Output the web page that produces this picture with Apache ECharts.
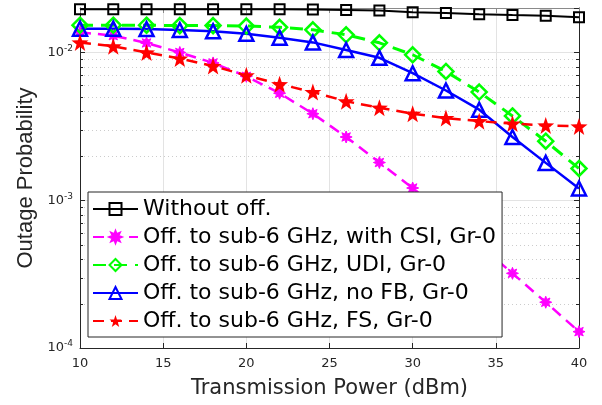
<!DOCTYPE html>
<html>
<head>
<meta charset="utf-8">
<title>Outage Probability vs Transmission Power</title>
<script src="https://cdn.jsdelivr.net/npm/echarts@6/dist/echarts.min.js"></script>
<style>
  html, body { margin: 0; padding: 0; background: #fff; }
  #chart { width: 602px; height: 405px; }
</style>
</head>
<body>
<div id="chart"></div>
<script>
// Transmission power (dBm) on the x axis
const powerDbm = [10, 12, 14, 16, 18, 20, 22, 24, 26, 28, 30, 32, 34, 36, 38, 40];

// Outage probability per scheme
const withoutOff = [0.0196, 0.0196, 0.0196, 0.0196, 0.0196, 0.0196, 0.0196, 0.0195, 0.0194, 0.0192, 0.0187, 0.0185, 0.01815, 0.0179, 0.0177, 0.0173];
const withCsi    = [0.0137, 0.0130, 0.0116, 0.0100, 0.0085, 0.0069, 0.0053, 0.00385, 0.00268, 0.0018, 0.00121, 0.00078, 0.0005, 0.00032, 0.000204, 0.000129];
const udi        = [0.0153, 0.0153, 0.0153, 0.0152, 0.0152, 0.0151, 0.0148, 0.01423, 0.01318, 0.01163, 0.00965, 0.00744, 0.0054, 0.00372, 0.00251, 0.00164];
const noFb       = [0.0145, 0.0145, 0.0144, 0.0142, 0.0139, 0.0134, 0.0126, 0.0117, 0.0104, 0.0092, 0.00724, 0.00553, 0.0041, 0.00268, 0.00179, 0.0012];
const fs         = [0.0117, 0.0110, 0.0100, 0.0091, 0.0081, 0.0070, 0.0061, 0.0054, 0.00467, 0.00423, 0.00385, 0.0036, 0.00343, 0.0033, 0.00321, 0.00316];

const seriesNames = [
  'Without off.',
  'Off. to sub-6 GHz, with CSI, Gr-0',
  'Off. to sub-6 GHz, UDI, Gr-0',
  'Off. to sub-6 GHz, no FB, Gr-0',
  'Off. to sub-6 GHz, FS, Gr-0'
];

// Axis ranges and ticks
const xMin = 10, xMax = 40, xStep = 5;
const yMin = 1e-4, yMax = 0.02;
const decades = [-4, -3, -2];

// Minor levels: 2..9 times each decade
const minorLevels = [];
decades.forEach(function (d) {
  for (let k = 2; k <= 9; k++) {
    const v = k * Math.pow(10, d);
    if (v < yMax) minorLevels.push(v);
  }
});

// Marker shapes
function burstPath(points, rOuter, rInner) {
  let p = '';
  for (let i = 0; i < points * 2; i++) {
    const r = i % 2 === 0 ? rOuter : rInner;
    const a = Math.PI * i / points - Math.PI / 2;
    const x = (50 + r * Math.cos(a)).toFixed(2);
    const y = (50 + r * Math.sin(a)).toFixed(2);
    p += (i === 0 ? 'M' : 'L') + x + ',' + y + ' ';
  }
  return 'path://' + p + 'Z';
}
const starSymbol = burstPath(5, 50, 20);
const asteriskSymbol = burstPath(8, 50, 26);

function pairs(ys) {
  return powerDbm.map(function (x, i) { return [x, ys[i]]; });
}

const font = 'Liberation Sans, Arial, sans-serif';
const wideFont = 'DejaVu Sans, sans-serif';
const axisColor = '#262626';

function yLabel(v) {
  const e = Math.round(Math.log10(v));
  if (Math.abs(Math.log10(v) - e) > 1e-6) return '';
  return '{b|10}{s|' + e + '}';
}

// Dotted minor grid lines plus short inward minor ticks on both y axes,
// placed through the axis scales
function renderMinorGrid(params, api) {
  const children = [];
  const xa = api.coord([xMin, yMin])[0];
  const xb = api.coord([xMax, yMin])[0];
  minorLevels.forEach(function (v) {
    const y = Math.round(api.coord([xMin, v])[1]) + 0.5;
    children.push({
      type: 'line', silent: true,
      shape: { x1: xa, y1: y, x2: xb, y2: y },
      style: { stroke: '#cccccc', lineWidth: 1, lineDash: [1, 3] }
    });
    children.push({
      type: 'line', silent: true,
      shape: { x1: xa, y1: y, x2: xa + 3, y2: y },
      style: { stroke: axisColor, lineWidth: 1 }
    });
    children.push({
      type: 'line', silent: true,
      shape: { x1: xb - 3, y1: y, x2: xb, y2: y },
      style: { stroke: axisColor, lineWidth: 1 }
    });
  });
  return { type: 'group', children: children };
}

const chart = echarts.init(document.getElementById('chart'), null, { renderer: 'canvas' });

const option = {
  backgroundColor: '#ffffff',
  animation: false,
  grid: { left: 80, right: 23, top: 8, bottom: 57, outerBoundsMode: 'none', containLabel: false },
  legend: {
    data: seriesNames,
    orient: 'vertical',
    left: 88,
    top: 192,
    itemWidth: 45,
    itemHeight: 15,
    itemGap: 6,
    padding: [6, 6, 5, 4],
    backgroundColor: '#ffffff',
    borderColor: axisColor,
    borderWidth: 1,
    borderRadius: 0,
    textStyle: { fontFamily: wideFont, fontSize: 22, color: '#000000' },
    selectedMode: false
  },
  xAxis: [
    {
      type: 'value', min: xMin, max: xMax, interval: xStep,
      name: 'Transmission Power (dBm)',
      nameLocation: 'middle', nameGap: 30,
      nameTextStyle: { fontFamily: wideFont, fontSize: 21, color: axisColor },
      axisLine: { show: true, lineStyle: { color: axisColor, width: 1 } },
      axisTick: { show: true, inside: true, length: 5, lineStyle: { color: axisColor } },
      axisLabel: { fontFamily: wideFont, fontSize: 13, color: axisColor, margin: 9 },
      splitLine: { show: true, lineStyle: { color: '#e3e3e3', width: 1 } }
    },
    {
      type: 'value', min: xMin, max: xMax, interval: xStep, position: 'top',
      axisLine: { show: true, lineStyle: { color: '#8a8a8a', width: 1 } },
      axisTick: { show: true, inside: true, length: 5, lineStyle: { color: '#8a8a8a' } },
      axisLabel: { show: false },
      splitLine: { show: false }
    }
  ],
  yAxis: [
    {
      type: 'log', logBase: 10, min: yMin, max: yMax,
      name: 'Outage Probability',
      nameLocation: 'middle', nameGap: 43,
      nameTextStyle: { fontFamily: font, fontSize: 22, color: axisColor },
      axisLine: { show: true, lineStyle: { color: axisColor, width: 1 } },
      axisTick: { show: true, inside: true, length: 5, lineStyle: { color: axisColor } },
      axisLabel: {
        margin: 7,
        formatter: yLabel,
        rich: {
          b: { fontFamily: wideFont, fontSize: 13, color: axisColor },
          s: { fontFamily: wideFont, fontSize: 9, color: axisColor, verticalAlign: 'top', padding: [0, 0, 8, 0] }
        }
      },
      splitLine: { show: true, lineStyle: { color: '#e3e3e3', width: 1 } }
    },
    {
      type: 'log', logBase: 10, min: yMin, max: yMax, position: 'right',
      axisLine: { show: true, lineStyle: { color: axisColor, width: 1 } },
      axisTick: { show: true, inside: true, length: 5, lineStyle: { color: axisColor } },
      axisLabel: { show: false },
      splitLine: { show: false }
    }
  ],
  series: [
    {
      name: 'minor-grid', type: 'custom', silent: true, z: 1,
      renderItem: renderMinorGrid,
      data: [[xMin, yMin]],
      clip: false
    },
    {
      name: seriesNames[0], type: 'line', data: pairs(withoutOff),
      symbol: 'rect', symbolSize: 10, clip: false,
      lineStyle: { color: '#000000', width: 2 },
      itemStyle: { color: 'rgba(0,0,0,0)', borderColor: '#000000', borderWidth: 2 }
    },
    {
      name: seriesNames[1], type: 'line', data: pairs(withCsi),
      symbol: asteriskSymbol, symbolSize: 12, clip: false,
      lineStyle: { color: '#ff00ff', width: 2.5, type: [11, 7] },
      itemStyle: { color: '#ff00ff', borderColor: '#ff00ff', borderWidth: 1 }
    },
    {
      name: seriesNames[2], type: 'line', data: pairs(udi),
      symbol: 'diamond', symbolSize: 15, clip: false,
      lineStyle: { color: '#00ff00', width: 3, type: [13, 8] },
      itemStyle: { color: 'rgba(0,0,0,0)', borderColor: '#00ff00', borderWidth: 2.5 }
    },
    {
      name: seriesNames[3], type: 'line', data: pairs(noFb),
      symbol: 'triangle', symbolSize: 14, clip: false,
      lineStyle: { color: '#0000ff', width: 2.5 },
      itemStyle: { color: 'rgba(0,0,0,0)', borderColor: '#0000ff', borderWidth: 2.5 }
    },
    {
      name: seriesNames[4], type: 'line', data: pairs(fs),
      symbol: starSymbol, symbolSize: 17, clip: false,
      lineStyle: { color: '#ff0000', width: 2.5, type: [11, 7] },
      itemStyle: { color: '#ff0000', borderColor: '#ff0000', borderWidth: 0 }
    }
  ]
};

chart.setOption(option);
</script>
</body>
</html>
